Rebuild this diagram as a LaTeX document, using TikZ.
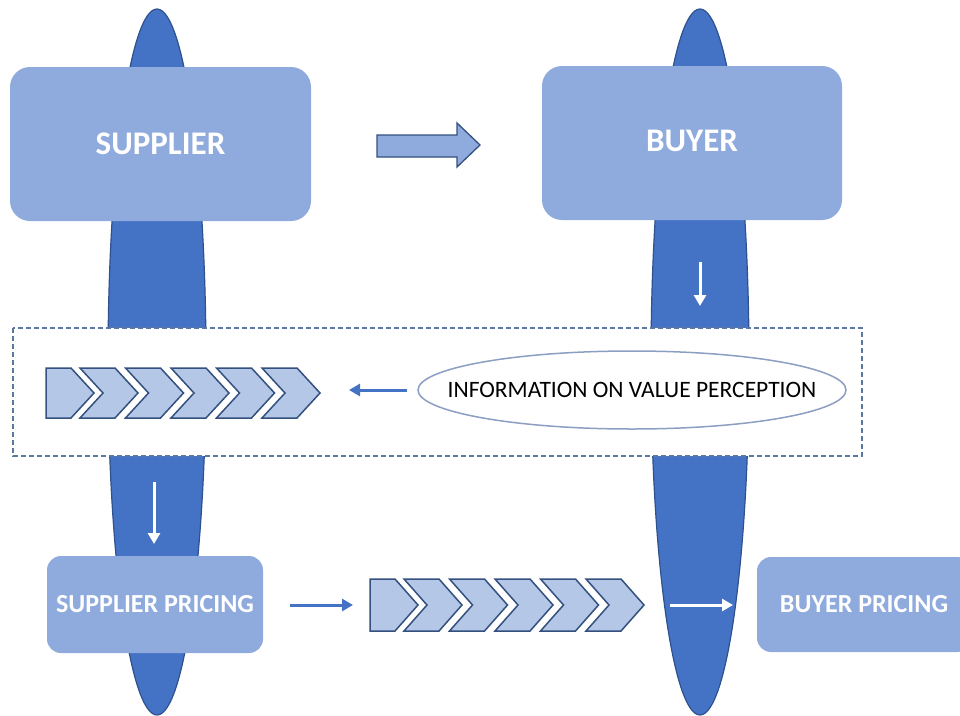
\documentclass[tikz,border=0pt]{standalone}
\usepackage{fontspec}
\setmainfont{Carlito}
\usetikzlibrary{arrows.meta}
\definecolor{boxfill}{HTML}{8FAADC}
\definecolor{ellfill}{HTML}{4472C4}
\definecolor{elldraw}{HTML}{2F528F}
\definecolor{chevfill}{HTML}{B4C7E7}
\definecolor{chevdraw}{HTML}{34507F}
\definecolor{dashcol}{HTML}{5A76A3}
\definecolor{infodraw}{HTML}{8C9FC2}
\begin{document}
\begin{tikzpicture}[x=1pt,y=-1pt,
  tallell/.style={fill=ellfill,draw=elldraw,line width=1.2pt},
  bigbox/.style={fill=boxfill,draw=none,rounded corners=20pt,text=white,font=\fontsize{33}{36}\selectfont\bfseries},
  smallbox/.style={fill=boxfill,draw=none,rounded corners=14pt,text=white,font=\fontsize{26}{30}\selectfont\bfseries},
  chev/.style={fill=chevfill,draw=chevdraw,line width=1.5pt,line join=miter},
  bluearrow/.style={draw=ellfill,line width=3pt,-{Triangle[length=11pt,width=12pt]}},
  whitearrow/.style={draw=white,line width=3pt,-{Triangle[length=11pt,width=12pt]}},
  dashbox/.style={draw=dashcol,fill=white,line width=1.3pt,dash pattern=on 5pt off 3pt},
  infoell/.style={draw=infodraw,fill=white,line width=1.5pt},
  infotext/.style={inner sep=0pt,font=\fontsize{23.5}{26}\selectfont},
  blockarrow/.style={fill=boxfill,draw=chevdraw,line width=1.3pt}
]
\useasboundingbox (0,0) rectangle (960,715);
\clip (0,0) rectangle (960,715);
% tall ellipses
\draw[tallell] (157,362) ellipse [x radius=49, y radius=353];
\draw[tallell] (700,362) ellipse [x radius=49, y radius=353];
% top boxes
\node[bigbox,minimum width=301pt,minimum height=154pt] (supplier) at (160.5,144) {SUPPLIER};
\node[bigbox,minimum width=300pt,minimum height=154pt] (buyer) at (692,143) {\raisebox{4pt}{BUYER}};
% block arrow
\draw[blockarrow] (377,135) -- (457,135) -- (457,123) -- (480,145) -- (457,167) -- (457,157) -- (377,157) -- cycle;
% white arrow down right ellipse
\coordinate (wd1s) at (700,262);
\coordinate (wd1e) at (700,306);
\draw[whitearrow] (wd1s) -- (wd1e);
% dashed frame
\draw[dashbox] (13,328) rectangle (862,456);
% chevrons row 1
\draw[chev] (46,368) -- (71,368) -- (94,393) -- (71,418) -- (46,418) -- cycle;
\foreach \k in {0,...,4}{
  \pgfmathsetmacro{\L}{80+\k*45.5}
  \draw[chev] (\L,368) -- (\L+35,368) -- (\L+58,393) -- (\L+35,418) -- (\L,418) -- (\L+23,393) -- cycle;
}
% info ellipse
\draw[infoell] (632,390) ellipse [x radius=214, y radius=39];
\node[infotext] (info) at (632,390) {INFORMATION ON VALUE PERCEPTION};
\coordinate (a1s) at (407,390);
\coordinate (a1e) at (349,390);
\draw[bluearrow] (a1s) -- (a1e);
% white arrow down left ellipse
\coordinate (wd2s) at (154,482);
\coordinate (wd2e) at (154,544);
\draw[whitearrow] (wd2s) -- (wd2e);
% bottom boxes
\node[smallbox,minimum width=216pt,minimum height=97pt] (sprice) at (155,604.5) {SUPPLIER PRICING};
\node[smallbox,minimum width=214pt,minimum height=95pt] (bprice) at (864,604.5) {BUYER PRICING};
% arrow to chevrons
\coordinate (a2s) at (290,605);
\coordinate (a2e) at (353,605);
\draw[bluearrow] (a2s) -- (a2e);
% chevrons row 2
\draw[chev] (370,579) -- (395,579) -- (418,605) -- (395,631) -- (370,631) -- cycle;
\foreach \k in {0,...,4}{
  \pgfmathsetmacro{\L}{404+\k*45.5}
  \draw[chev] (\L,579) -- (\L+35,579) -- (\L+58,605) -- (\L+35,631) -- (\L,631) -- (\L+23,605) -- cycle;
}
% white arrow right
\coordinate (wrs) at (670,605);
\coordinate (wre) at (733,605);
\draw[whitearrow] (wrs) -- (wre);
\end{tikzpicture}
\end{document}
